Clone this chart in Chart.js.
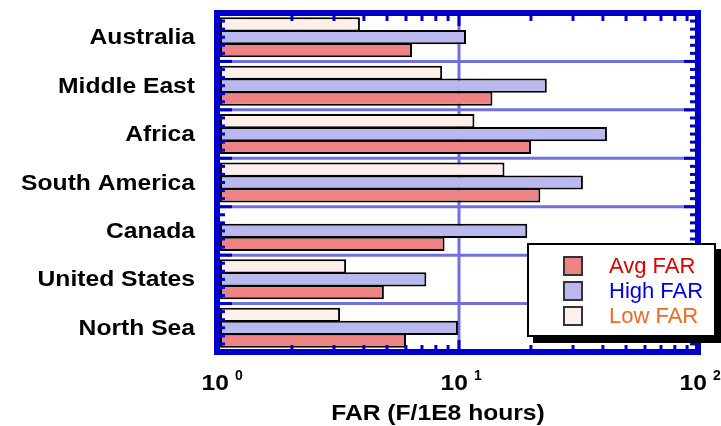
<!DOCTYPE html>
<html>
<head>
<meta charset="utf-8">
<title>FAR by region</title>
<script src="https://cdn.jsdelivr.net/npm/chart.js@4"></script>
<style>
    html, body { margin: 0; padding: 0; background: #fff; }
    #wrap { position: relative; width: 721px; height: 426px; }
</style>
</head>
<body>
<div id="wrap"><canvas id="farChart" width="721" height="426"></canvas></div>
<script>
// Regions, top to bottom
const regions = ['Australia', 'Middle East', 'Africa', 'South America', 'Canada', 'United States', 'North Sea'];

// Failure rates (F/1E8 hours)
const lowFar  = [3.85, 8.5, 11.6, 15.5, null, 3.37, 3.18];
const highFar = [10.7, 23.3, 41.6, 33.0, 19.3, 7.3, 9.9];
const avgFar  = [6.36, 13.8, 20.0, 21.9, 8.7, 4.85, 6.0];

// Axis labels
const decadeTicks = [1, 10, 100];
const decadeExponents = ['0', '1', '2'];
const axisTitle = 'FAR (F/1E8 hours)';

// Legend entries (in legend order)
const legendLabels = ['Avg FAR', 'High FAR', 'Low FAR'];
const legendTextColors = ['#e00000', '#0000e6', '#f06a20'];

const frameBlue = '#0000cc';
const fillAvg = '#ef8282';
const fillHigh = '#b9b9f0';
const fillLow = '#fdefe9';
const boldFont = 'bold 22px "Liberation Sans", Arial, sans-serif';
const stretch = 1.12;

// draw text a bit wider, like the original bold labels
function wideText(ctx, text, x, y, align) {
    ctx.save();
    ctx.translate(x, y);
    ctx.scale(stretch, 1);
    ctx.textAlign = align;
    ctx.fillText(text, 0, 0);
    ctx.restore();
}

const decorPlugin = {
    id: 'farDecor',
    beforeDatasetsDraw(chart) {
        const ctx = chart.ctx;
        const area = chart.chartArea;
        const x = chart.scales.x;
        const band = (area.bottom - area.top) / regions.length;
        ctx.save();
        ctx.strokeStyle = '#7070e2';
        ctx.lineWidth = 3;
        // horizontal lines between regions
        for (let i = 1; i < regions.length; i++) {
            const y = area.top + i * band;
            ctx.beginPath();
            ctx.moveTo(area.left, y);
            ctx.lineTo(area.right, y);
            ctx.stroke();
        }
        // vertical line at 10
        const gx = x.getPixelForValue(10);
        ctx.beginPath();
        ctx.moveTo(gx, area.top);
        ctx.lineTo(gx, area.bottom);
        ctx.stroke();
        ctx.restore();
    },
    afterDatasetsDraw(chart) {
        const ctx = chart.ctx;
        const area = chart.chartArea;
        const x = chart.scales.x;
        const band = (area.bottom - area.top) / regions.length;
        ctx.save();
        ctx.fillStyle = frameBlue;
        // frame
        ctx.fillRect(area.left - 6, area.top - 3, area.right - area.left + 9, 6);
        ctx.fillRect(area.left - 6, area.bottom - 3, area.right - area.left + 9, 6);
        ctx.fillRect(area.left - 6, area.top - 3, 6, area.bottom - area.top + 6);
        ctx.fillRect(area.right - 3, area.top - 3, 6, area.bottom - area.top + 6);
        // top / bottom ticks
        for (let d = 1; d < 100; d *= 10) {
            for (let m = 2; m <= 10; m++) {
                const v = d * m;
                if (v >= 100) continue;
                const px = x.getPixelForValue(v);
                const major = (m === 10);
                ctx.fillRect(px - 1.5, area.top + 3, 3, major ? 10 : 5);
                ctx.fillRect(px - 1.5, area.bottom - 3 - (major ? 9 : 4), 3, major ? 9 : 4);
            }
        }
        // left / right ticks
        const steps = regions.length * 6;
        for (let i = 1; i < steps; i++) {
            const y = area.top + i * band / 6;
            const major = (i % 6 === 0);
            ctx.fillRect(area.left, y - 1.5, major ? 12 : 5, 3);
            ctx.fillRect(area.right - 3 - (major ? 11 : 5), y - 1.5, major ? 11 : 5, 3);
        }
        ctx.restore();
    },
    afterDraw(chart) {
        const ctx = chart.ctx;
        const x = chart.scales.x;
        const y = chart.scales.y;
        ctx.save();
        ctx.fillStyle = '#000';
        // region labels
        ctx.font = boldFont;
        ctx.textBaseline = 'middle';
        regions.forEach((r, i) => {
            wideText(ctx, r, 195, y.getPixelForValue(i) + 1, 'right');
        });
        // decade tick labels
        ctx.textBaseline = 'alphabetic';
        decadeTicks.forEach((v, i) => {
            const px = x.getPixelForValue(v);
            ctx.font = boldFont;
            wideText(ctx, '10', px + 9, 390, 'right');
            ctx.font = 'bold 14px "Liberation Sans", Arial, sans-serif';
            ctx.textAlign = 'left';
            ctx.fillText(decadeExponents[i], px + 15, 380);
        });
        // axis title
        ctx.font = boldFont;
        wideText(ctx, axisTitle, 438, 420, 'center');

        // legend box with shadow
        const lx = 527, ly = 243, lw = 189, lh = 94;
        ctx.fillStyle = '#000';
        ctx.fillRect(lx + 6, ly + 6, lw, lh);
        ctx.fillStyle = '#fff';
        ctx.fillRect(lx, ly, lw, lh);
        ctx.strokeStyle = '#000';
        ctx.lineWidth = 2;
        ctx.strokeRect(lx + 1, ly + 1, lw - 2, lh - 2);
        const swatchFills = [fillAvg, fillHigh, fillLow];
        ctx.font = '22px "Liberation Sans", Arial, sans-serif';
        ctx.textAlign = 'left';
        ctx.textBaseline = 'middle';
        legendLabels.forEach((lab, i) => {
            const cy = 266 + i * 25;
            ctx.fillStyle = swatchFills[i];
            ctx.fillRect(564, cy - 9, 18, 18);
            ctx.strokeStyle = '#333';
            ctx.lineWidth = 2;
            ctx.strokeRect(564, cy - 9, 18, 18);
            ctx.fillStyle = legendTextColors[i];
            ctx.fillText(lab, 609, cy + 1);
        });
        ctx.restore();
    }
};

const barStyle = {
    categoryPercentage: 0.8,
    barPercentage: 1.1,
    borderColor: '#000',
    borderWidth: 2,
    borderSkipped: false
};

const ctx = document.getElementById('farChart').getContext('2d');
const farChart = new Chart(ctx, {
    type: 'bar',
    data: {
        labels: regions,
        datasets: [
            { label: 'Low FAR', data: lowFar, backgroundColor: fillLow, ...barStyle },
            { label: 'High FAR', data: highFar, backgroundColor: fillHigh, ...barStyle },
            { label: 'Avg FAR', data: avgFar, backgroundColor: fillAvg, ...barStyle }
        ]
    },
    options: {
        indexAxis: 'y',
        responsive: false,
        animation: false,
        layout: { padding: { left: 220, right: 23, top: 13, bottom: 74 } },
        plugins: {
            legend: { display: false },
            tooltip: { enabled: false }
        },
        scales: {
            x: { type: 'logarithmic', min: 1, max: 100, display: false },
            y: { type: 'category', display: false }
        }
    },
    plugins: [decorPlugin]
});
</script>
</body>
</html>
